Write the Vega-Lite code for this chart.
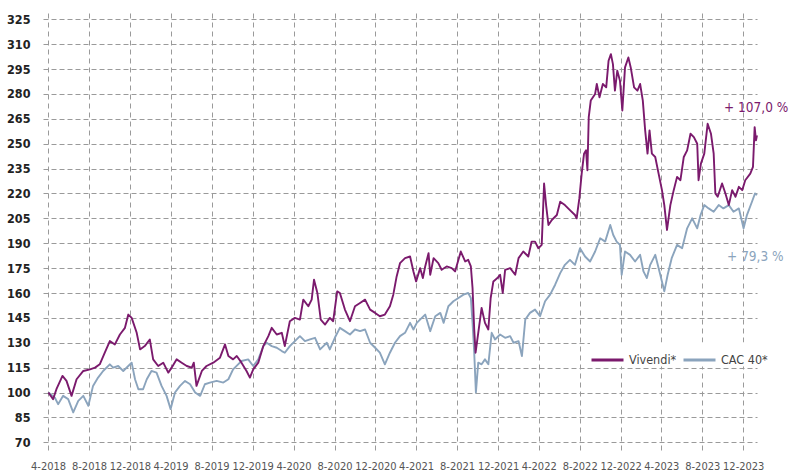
{
"$schema": "https://vega.github.io/schema/vega-lite/v6.json",
"width": 714, "height": 439,
"autosize": {"type": "none"},
"padding": {"left": 43, "top": 13, "right": 32, "bottom": 23},
"background": "white",
"config": {"view": {"stroke": null}, "font": "DejaVu Sans Condensed, sans-serif",
 "axis": {"labelOverlap": false, "labelFlush": false}},
"datasets": {
"series": [
{"series":"CAC 40*","date":"2018-04-02","value":100},
{"series":"CAC 40*","date":"2018-04-21","value":97},
{"series":"CAC 40*","date":"2018-05-01","value":93},
{"series":"CAC 40*","date":"2018-05-16","value":98},
{"series":"CAC 40*","date":"2018-05-31","value":96},
{"series":"CAC 40*","date":"2018-06-15","value":88},
{"series":"CAC 40*","date":"2018-06-30","value":95},
{"series":"CAC 40*","date":"2018-07-15","value":98},
{"series":"CAC 40*","date":"2018-07-30","value":92},
{"series":"CAC 40*","date":"2018-08-13","value":104},
{"series":"CAC 40*","date":"2018-08-28","value":109},
{"series":"CAC 40*","date":"2018-09-12","value":113},
{"series":"CAC 40*","date":"2018-10-02","value":117},
{"series":"CAC 40*","date":"2018-10-12","value":115},
{"series":"CAC 40*","date":"2018-10-27","value":116},
{"series":"CAC 40*","date":"2018-11-11","value":113},
{"series":"CAC 40*","date":"2018-11-26","value":116},
{"series":"CAC 40*","date":"2018-12-06","value":118},
{"series":"CAC 40*","date":"2018-12-16","value":108},
{"series":"CAC 40*","date":"2018-12-26","value":102},
{"series":"CAC 40*","date":"2019-01-09","value":102},
{"series":"CAC 40*","date":"2019-01-20","value":108},
{"series":"CAC 40*","date":"2019-02-03","value":113},
{"series":"CAC 40*","date":"2019-02-18","value":112},
{"series":"CAC 40*","date":"2019-03-05","value":104},
{"series":"CAC 40*","date":"2019-03-20","value":98},
{"series":"CAC 40*","date":"2019-04-01","value":90},
{"series":"CAC 40*","date":"2019-04-14","value":100},
{"series":"CAC 40*","date":"2019-04-29","value":104},
{"series":"CAC 40*","date":"2019-05-14","value":107},
{"series":"CAC 40*","date":"2019-05-29","value":105},
{"series":"CAC 40*","date":"2019-06-13","value":100},
{"series":"CAC 40*","date":"2019-06-28","value":98},
{"series":"CAC 40*","date":"2019-07-12","value":105},
{"series":"CAC 40*","date":"2019-07-27","value":106},
{"series":"CAC 40*","date":"2019-08-16","value":107},
{"series":"CAC 40*","date":"2019-09-05","value":106},
{"series":"CAC 40*","date":"2019-09-20","value":108},
{"series":"CAC 40*","date":"2019-10-04","value":114},
{"series":"CAC 40*","date":"2019-10-19","value":117},
{"series":"CAC 40*","date":"2019-10-29","value":119},
{"series":"CAC 40*","date":"2019-11-18","value":120},
{"series":"CAC 40*","date":"2019-12-03","value":116},
{"series":"CAC 40*","date":"2019-12-18","value":120},
{"series":"CAC 40*","date":"2020-01-02","value":128},
{"series":"CAC 40*","date":"2020-01-12","value":130},
{"series":"CAC 40*","date":"2020-01-27","value":128},
{"series":"CAC 40*","date":"2020-02-11","value":127},
{"series":"CAC 40*","date":"2020-02-26","value":125},
{"series":"CAC 40*","date":"2020-03-06","value":124},
{"series":"CAC 40*","date":"2020-03-21","value":128},
{"series":"CAC 40*","date":"2020-04-05","value":131},
{"series":"CAC 40*","date":"2020-04-20","value":134},
{"series":"CAC 40*","date":"2020-05-05","value":131},
{"series":"CAC 40*","date":"2020-05-20","value":132},
{"series":"CAC 40*","date":"2020-06-04","value":133},
{"series":"CAC 40*","date":"2020-06-19","value":126},
{"series":"CAC 40*","date":"2020-06-29","value":128},
{"series":"CAC 40*","date":"2020-07-09","value":130},
{"series":"CAC 40*","date":"2020-07-18","value":126},
{"series":"CAC 40*","date":"2020-08-02","value":133},
{"series":"CAC 40*","date":"2020-08-17","value":139},
{"series":"CAC 40*","date":"2020-09-01","value":137},
{"series":"CAC 40*","date":"2020-09-16","value":135},
{"series":"CAC 40*","date":"2020-10-01","value":138},
{"series":"CAC 40*","date":"2020-10-16","value":137},
{"series":"CAC 40*","date":"2020-10-31","value":138},
{"series":"CAC 40*","date":"2020-11-15","value":130},
{"series":"CAC 40*","date":"2020-11-30","value":127},
{"series":"CAC 40*","date":"2020-12-14","value":124},
{"series":"CAC 40*","date":"2020-12-29","value":117},
{"series":"CAC 40*","date":"2021-01-13","value":124},
{"series":"CAC 40*","date":"2021-01-28","value":130},
{"series":"CAC 40*","date":"2021-02-12","value":134},
{"series":"CAC 40*","date":"2021-02-27","value":136},
{"series":"CAC 40*","date":"2021-03-14","value":142},
{"series":"CAC 40*","date":"2021-03-24","value":138},
{"series":"CAC 40*","date":"2021-04-03","value":142},
{"series":"CAC 40*","date":"2021-04-18","value":145},
{"series":"CAC 40*","date":"2021-04-28","value":147},
{"series":"CAC 40*","date":"2021-05-13","value":137},
{"series":"CAC 40*","date":"2021-05-28","value":146},
{"series":"CAC 40*","date":"2021-06-12","value":148},
{"series":"CAC 40*","date":"2021-06-22","value":142},
{"series":"CAC 40*","date":"2021-07-06","value":152},
{"series":"CAC 40*","date":"2021-07-21","value":155},
{"series":"CAC 40*","date":"2021-08-05","value":157},
{"series":"CAC 40*","date":"2021-08-20","value":159},
{"series":"CAC 40*","date":"2021-09-03","value":160},
{"series":"CAC 40*","date":"2021-09-11","value":157},
{"series":"CAC 40*","date":"2021-09-16","value":142},
{"series":"CAC 40*","date":"2021-09-21","value":124},
{"series":"CAC 40*","date":"2021-09-26","value":100},
{"series":"CAC 40*","date":"2021-10-03","value":118},
{"series":"CAC 40*","date":"2021-10-13","value":117},
{"series":"CAC 40*","date":"2021-10-23","value":120},
{"series":"CAC 40*","date":"2021-11-02","value":117},
{"series":"CAC 40*","date":"2021-11-12","value":136},
{"series":"CAC 40*","date":"2021-11-22","value":132},
{"series":"CAC 40*","date":"2021-12-07","value":135},
{"series":"CAC 40*","date":"2021-12-22","value":133},
{"series":"CAC 40*","date":"2022-01-06","value":134},
{"series":"CAC 40*","date":"2022-01-16","value":130},
{"series":"CAC 40*","date":"2022-01-31","value":131},
{"series":"CAC 40*","date":"2022-02-10","value":122},
{"series":"CAC 40*","date":"2022-02-20","value":144},
{"series":"CAC 40*","date":"2022-03-06","value":148},
{"series":"CAC 40*","date":"2022-03-21","value":150},
{"series":"CAC 40*","date":"2022-04-05","value":146},
{"series":"CAC 40*","date":"2022-04-20","value":155},
{"series":"CAC 40*","date":"2022-05-05","value":159},
{"series":"CAC 40*","date":"2022-05-20","value":165},
{"series":"CAC 40*","date":"2022-06-04","value":172},
{"series":"CAC 40*","date":"2022-06-18","value":177},
{"series":"CAC 40*","date":"2022-07-03","value":180},
{"series":"CAC 40*","date":"2022-07-18","value":177},
{"series":"CAC 40*","date":"2022-08-02","value":187},
{"series":"CAC 40*","date":"2022-08-17","value":182},
{"series":"CAC 40*","date":"2022-09-01","value":179},
{"series":"CAC 40*","date":"2022-09-16","value":185},
{"series":"CAC 40*","date":"2022-10-01","value":193},
{"series":"CAC 40*","date":"2022-10-16","value":191},
{"series":"CAC 40*","date":"2022-10-31","value":201},
{"series":"CAC 40*","date":"2022-11-09","value":195},
{"series":"CAC 40*","date":"2022-11-19","value":191},
{"series":"CAC 40*","date":"2022-11-29","value":189},
{"series":"CAC 40*","date":"2022-12-04","value":171},
{"series":"CAC 40*","date":"2022-12-14","value":185},
{"series":"CAC 40*","date":"2022-12-29","value":183},
{"series":"CAC 40*","date":"2023-01-13","value":179},
{"series":"CAC 40*","date":"2023-01-28","value":183},
{"series":"CAC 40*","date":"2023-02-07","value":173},
{"series":"CAC 40*","date":"2023-02-17","value":169},
{"series":"CAC 40*","date":"2023-02-27","value":177},
{"series":"CAC 40*","date":"2023-03-14","value":183},
{"series":"CAC 40*","date":"2023-03-29","value":171},
{"series":"CAC 40*","date":"2023-04-10","value":161},
{"series":"CAC 40*","date":"2023-04-20","value":171},
{"series":"CAC 40*","date":"2023-05-02","value":181},
{"series":"CAC 40*","date":"2023-05-18","value":189},
{"series":"CAC 40*","date":"2023-06-02","value":187},
{"series":"CAC 40*","date":"2023-06-17","value":199},
{"series":"CAC 40*","date":"2023-07-02","value":205},
{"series":"CAC 40*","date":"2023-07-17","value":199},
{"series":"CAC 40*","date":"2023-07-27","value":207},
{"series":"CAC 40*","date":"2023-08-07","value":213},
{"series":"CAC 40*","date":"2023-08-20","value":211},
{"series":"CAC 40*","date":"2023-09-04","value":209},
{"series":"CAC 40*","date":"2023-09-19","value":213},
{"series":"CAC 40*","date":"2023-10-03","value":211},
{"series":"CAC 40*","date":"2023-10-19","value":213},
{"series":"CAC 40*","date":"2023-11-02","value":209},
{"series":"CAC 40*","date":"2023-11-18","value":211},
{"series":"CAC 40*","date":"2023-12-02","value":199},
{"series":"CAC 40*","date":"2023-12-12","value":207},
{"series":"CAC 40*","date":"2023-12-27","value":215},
{"series":"CAC 40*","date":"2024-01-05","value":220},
{"series":"CAC 40*","date":"2024-01-11","value":219},
{"series":"Vivendi*","date":"2018-04-02","value":100},
{"series":"Vivendi*","date":"2018-04-16","value":96},
{"series":"Vivendi*","date":"2018-04-26","value":102},
{"series":"Vivendi*","date":"2018-05-14","value":110},
{"series":"Vivendi*","date":"2018-05-26","value":107},
{"series":"Vivendi*","date":"2018-06-10","value":98},
{"series":"Vivendi*","date":"2018-06-25","value":108},
{"series":"Vivendi*","date":"2018-07-15","value":113},
{"series":"Vivendi*","date":"2018-08-04","value":114},
{"series":"Vivendi*","date":"2018-08-19","value":115},
{"series":"Vivendi*","date":"2018-09-02","value":117},
{"series":"Vivendi*","date":"2018-09-17","value":124},
{"series":"Vivendi*","date":"2018-10-02","value":131},
{"series":"Vivendi*","date":"2018-10-17","value":129},
{"series":"Vivendi*","date":"2018-11-01","value":135},
{"series":"Vivendi*","date":"2018-11-16","value":139},
{"series":"Vivendi*","date":"2018-11-26","value":147},
{"series":"Vivendi*","date":"2018-12-06","value":145},
{"series":"Vivendi*","date":"2018-12-21","value":136},
{"series":"Vivendi*","date":"2018-12-31","value":126},
{"series":"Vivendi*","date":"2019-01-14","value":128},
{"series":"Vivendi*","date":"2019-01-29","value":132},
{"series":"Vivendi*","date":"2019-02-08","value":120},
{"series":"Vivendi*","date":"2019-02-23","value":116},
{"series":"Vivendi*","date":"2019-03-10","value":118},
{"series":"Vivendi*","date":"2019-03-25","value":112},
{"series":"Vivendi*","date":"2019-04-04","value":115},
{"series":"Vivendi*","date":"2019-04-19","value":120},
{"series":"Vivendi*","date":"2019-05-04","value":118},
{"series":"Vivendi*","date":"2019-05-19","value":116},
{"series":"Vivendi*","date":"2019-06-03","value":115},
{"series":"Vivendi*","date":"2019-06-09","value":118},
{"series":"Vivendi*","date":"2019-06-17","value":104},
{"series":"Vivendi*","date":"2019-07-03","value":113},
{"series":"Vivendi*","date":"2019-07-17","value":116},
{"series":"Vivendi*","date":"2019-08-06","value":118},
{"series":"Vivendi*","date":"2019-08-26","value":121},
{"series":"Vivendi*","date":"2019-09-10","value":129},
{"series":"Vivendi*","date":"2019-09-20","value":122},
{"series":"Vivendi*","date":"2019-10-04","value":120},
{"series":"Vivendi*","date":"2019-10-15","value":122},
{"series":"Vivendi*","date":"2019-10-29","value":118},
{"series":"Vivendi*","date":"2019-11-13","value":113},
{"series":"Vivendi*","date":"2019-11-23","value":109},
{"series":"Vivendi*","date":"2019-12-03","value":114},
{"series":"Vivendi*","date":"2019-12-18","value":118},
{"series":"Vivendi*","date":"2020-01-02","value":128},
{"series":"Vivendi*","date":"2020-01-17","value":134},
{"series":"Vivendi*","date":"2020-01-27","value":139},
{"series":"Vivendi*","date":"2020-02-11","value":135},
{"series":"Vivendi*","date":"2020-02-26","value":136},
{"series":"Vivendi*","date":"2020-03-06","value":128},
{"series":"Vivendi*","date":"2020-03-21","value":143},
{"series":"Vivendi*","date":"2020-04-05","value":145},
{"series":"Vivendi*","date":"2020-04-20","value":144},
{"series":"Vivendi*","date":"2020-04-30","value":156},
{"series":"Vivendi*","date":"2020-05-15","value":152},
{"series":"Vivendi*","date":"2020-05-25","value":156},
{"series":"Vivendi*","date":"2020-06-01","value":168},
{"series":"Vivendi*","date":"2020-06-11","value":160},
{"series":"Vivendi*","date":"2020-06-21","value":144},
{"series":"Vivendi*","date":"2020-07-04","value":141},
{"series":"Vivendi*","date":"2020-07-18","value":145},
{"series":"Vivendi*","date":"2020-07-28","value":143},
{"series":"Vivendi*","date":"2020-08-09","value":161},
{"series":"Vivendi*","date":"2020-08-17","value":160},
{"series":"Vivendi*","date":"2020-09-01","value":150},
{"series":"Vivendi*","date":"2020-09-16","value":143},
{"series":"Vivendi*","date":"2020-10-01","value":152},
{"series":"Vivendi*","date":"2020-10-16","value":154},
{"series":"Vivendi*","date":"2020-10-31","value":156},
{"series":"Vivendi*","date":"2020-11-15","value":150},
{"series":"Vivendi*","date":"2020-11-30","value":148},
{"series":"Vivendi*","date":"2020-12-14","value":146},
{"series":"Vivendi*","date":"2020-12-29","value":147},
{"series":"Vivendi*","date":"2021-01-13","value":152},
{"series":"Vivendi*","date":"2021-01-23","value":159},
{"series":"Vivendi*","date":"2021-02-02","value":170},
{"series":"Vivendi*","date":"2021-02-12","value":178},
{"series":"Vivendi*","date":"2021-02-27","value":181},
{"series":"Vivendi*","date":"2021-03-14","value":182},
{"series":"Vivendi*","date":"2021-03-24","value":173},
{"series":"Vivendi*","date":"2021-04-01","value":167},
{"series":"Vivendi*","date":"2021-04-13","value":175},
{"series":"Vivendi*","date":"2021-04-21","value":169},
{"series":"Vivendi*","date":"2021-04-28","value":176},
{"series":"Vivendi*","date":"2021-05-08","value":184},
{"series":"Vivendi*","date":"2021-05-13","value":171},
{"series":"Vivendi*","date":"2021-05-23","value":181},
{"series":"Vivendi*","date":"2021-06-06","value":178},
{"series":"Vivendi*","date":"2021-06-16","value":174},
{"series":"Vivendi*","date":"2021-07-01","value":176},
{"series":"Vivendi*","date":"2021-07-16","value":175},
{"series":"Vivendi*","date":"2021-07-26","value":173},
{"series":"Vivendi*","date":"2021-08-05","value":180},
{"series":"Vivendi*","date":"2021-08-12","value":185},
{"series":"Vivendi*","date":"2021-08-25","value":179},
{"series":"Vivendi*","date":"2021-09-03","value":180},
{"series":"Vivendi*","date":"2021-09-11","value":176},
{"series":"Vivendi*","date":"2021-09-16","value":163},
{"series":"Vivendi*","date":"2021-09-21","value":138},
{"series":"Vivendi*","date":"2021-09-25","value":124},
{"series":"Vivendi*","date":"2021-10-03","value":136},
{"series":"Vivendi*","date":"2021-10-13","value":151},
{"series":"Vivendi*","date":"2021-10-23","value":142},
{"series":"Vivendi*","date":"2021-11-02","value":138},
{"series":"Vivendi*","date":"2021-11-09","value":157},
{"series":"Vivendi*","date":"2021-11-17","value":167},
{"series":"Vivendi*","date":"2021-11-29","value":169},
{"series":"Vivendi*","date":"2021-12-07","value":171},
{"series":"Vivendi*","date":"2021-12-15","value":160},
{"series":"Vivendi*","date":"2021-12-22","value":174},
{"series":"Vivendi*","date":"2022-01-06","value":175},
{"series":"Vivendi*","date":"2022-01-21","value":171},
{"series":"Vivendi*","date":"2022-01-31","value":181},
{"series":"Vivendi*","date":"2022-02-14","value":185},
{"series":"Vivendi*","date":"2022-03-01","value":182},
{"series":"Vivendi*","date":"2022-03-11","value":191},
{"series":"Vivendi*","date":"2022-03-21","value":191},
{"series":"Vivendi*","date":"2022-03-31","value":187},
{"series":"Vivendi*","date":"2022-04-10","value":189},
{"series":"Vivendi*","date":"2022-04-17","value":226},
{"series":"Vivendi*","date":"2022-04-23","value":213},
{"series":"Vivendi*","date":"2022-04-30","value":201},
{"series":"Vivendi*","date":"2022-05-10","value":204},
{"series":"Vivendi*","date":"2022-05-25","value":207},
{"series":"Vivendi*","date":"2022-06-04","value":215},
{"series":"Vivendi*","date":"2022-06-18","value":213},
{"series":"Vivendi*","date":"2022-07-03","value":210},
{"series":"Vivendi*","date":"2022-07-18","value":207},
{"series":"Vivendi*","date":"2022-07-23","value":205},
{"series":"Vivendi*","date":"2022-07-31","value":217},
{"series":"Vivendi*","date":"2022-08-07","value":232},
{"series":"Vivendi*","date":"2022-08-14","value":244},
{"series":"Vivendi*","date":"2022-08-20","value":246},
{"series":"Vivendi*","date":"2022-08-24","value":234},
{"series":"Vivendi*","date":"2022-08-28","value":266},
{"series":"Vivendi*","date":"2022-09-03","value":276},
{"series":"Vivendi*","date":"2022-09-16","value":280},
{"series":"Vivendi*","date":"2022-09-21","value":286},
{"series":"Vivendi*","date":"2022-09-29","value":278},
{"series":"Vivendi*","date":"2022-10-09","value":286},
{"series":"Vivendi*","date":"2022-10-19","value":284},
{"series":"Vivendi*","date":"2022-10-26","value":300},
{"series":"Vivendi*","date":"2022-11-02","value":304},
{"series":"Vivendi*","date":"2022-11-08","value":298},
{"series":"Vivendi*","date":"2022-11-14","value":282},
{"series":"Vivendi*","date":"2022-11-21","value":294},
{"series":"Vivendi*","date":"2022-11-29","value":288},
{"series":"Vivendi*","date":"2022-12-06","value":270},
{"series":"Vivendi*","date":"2022-12-14","value":296},
{"series":"Vivendi*","date":"2022-12-24","value":302},
{"series":"Vivendi*","date":"2022-12-31","value":296},
{"series":"Vivendi*","date":"2023-01-10","value":284},
{"series":"Vivendi*","date":"2023-01-20","value":282},
{"series":"Vivendi*","date":"2023-01-28","value":286},
{"series":"Vivendi*","date":"2023-02-05","value":276},
{"series":"Vivendi*","date":"2023-02-12","value":258},
{"series":"Vivendi*","date":"2023-02-19","value":244},
{"series":"Vivendi*","date":"2023-02-25","value":258},
{"series":"Vivendi*","date":"2023-03-04","value":244},
{"series":"Vivendi*","date":"2023-03-14","value":242},
{"series":"Vivendi*","date":"2023-03-24","value":232},
{"series":"Vivendi*","date":"2023-04-03","value":222},
{"series":"Vivendi*","date":"2023-04-10","value":213},
{"series":"Vivendi*","date":"2023-04-18","value":198},
{"series":"Vivendi*","date":"2023-04-28","value":213},
{"series":"Vivendi*","date":"2023-05-08","value":222},
{"series":"Vivendi*","date":"2023-05-18","value":230},
{"series":"Vivendi*","date":"2023-05-28","value":228},
{"series":"Vivendi*","date":"2023-06-07","value":242},
{"series":"Vivendi*","date":"2023-06-17","value":246},
{"series":"Vivendi*","date":"2023-06-27","value":256},
{"series":"Vivendi*","date":"2023-07-07","value":254},
{"series":"Vivendi*","date":"2023-07-17","value":250},
{"series":"Vivendi*","date":"2023-07-21","value":228},
{"series":"Vivendi*","date":"2023-07-28","value":238},
{"series":"Vivendi*","date":"2023-08-07","value":244},
{"series":"Vivendi*","date":"2023-08-17","value":262},
{"series":"Vivendi*","date":"2023-08-27","value":256},
{"series":"Vivendi*","date":"2023-09-04","value":244},
{"series":"Vivendi*","date":"2023-09-09","value":220},
{"series":"Vivendi*","date":"2023-09-16","value":218},
{"series":"Vivendi*","date":"2023-09-29","value":226},
{"series":"Vivendi*","date":"2023-10-09","value":220},
{"series":"Vivendi*","date":"2023-10-19","value":213},
{"series":"Vivendi*","date":"2023-10-29","value":222},
{"series":"Vivendi*","date":"2023-11-08","value":218},
{"series":"Vivendi*","date":"2023-11-18","value":224},
{"series":"Vivendi*","date":"2023-11-28","value":222},
{"series":"Vivendi*","date":"2023-12-07","value":228},
{"series":"Vivendi*","date":"2023-12-22","value":232},
{"series":"Vivendi*","date":"2023-12-30","value":236},
{"series":"Vivendi*","date":"2024-01-04","value":260},
{"series":"Vivendi*","date":"2024-01-08","value":252},
{"series":"Vivendi*","date":"2024-01-11","value":255}
]
},
"layer": [
{
"data": {"name": "series"},
"mark": {"type": "line", "strokeWidth": 1.9, "strokeJoin": "round"},
"encoding": {
"x": {"field": "date", "type": "temporal",
 "scale": {"type": "utc", "domain": [{"year": 2018, "month": 3, "date": 17, "utc": true}, {"year": 2024, "month": 1, "date": 11, "utc": true}]},
 "axis": {"title": null, "grid": true, "gridDash": [5, 4], "gridColor": "#9a9a9a", "gridWidth": 1, "domain": false, "ticks": false,
  "tickCount": 30,
  "labelPadding": 8, "labelFontSize": 11, "labelColor": "#555555", "labelOverlap": false, "labelFlush": false,
  "values": [
   {"year": 2018, "month": 4, "date": 1, "utc": true}, {"year": 2018, "month": 8, "date": 1, "utc": true}, {"year": 2018, "month": 12, "date": 1, "utc": true},
   {"year": 2019, "month": 4, "date": 1, "utc": true}, {"year": 2019, "month": 8, "date": 1, "utc": true}, {"year": 2019, "month": 12, "date": 1, "utc": true},
   {"year": 2020, "month": 4, "date": 1, "utc": true}, {"year": 2020, "month": 8, "date": 1, "utc": true}, {"year": 2020, "month": 12, "date": 1, "utc": true},
   {"year": 2021, "month": 4, "date": 1, "utc": true}, {"year": 2021, "month": 8, "date": 1, "utc": true}, {"year": 2021, "month": 12, "date": 1, "utc": true},
   {"year": 2022, "month": 4, "date": 1, "utc": true}, {"year": 2022, "month": 8, "date": 1, "utc": true}, {"year": 2022, "month": 12, "date": 1, "utc": true},
   {"year": 2023, "month": 4, "date": 1, "utc": true}, {"year": 2023, "month": 8, "date": 1, "utc": true}, {"year": 2023, "month": 12, "date": 1, "utc": true}
  ],
  "labelExpr": "utcFormat(datum.value, '%-m-%Y')"}},
"y": {"field": "value", "type": "quantitative",
 "scale": {"domain": [64.15, 328.8], "nice": false, "zero": false},
 "axis": {"title": null, "grid": true, "gridDash": [5, 3], "gridColor": "#9a9a9a", "gridWidth": 1, "domain": false, "ticks": false,
  "tickCount": 30,
  "values": [70, 85, 100, 115, 130, 145, 160, 175, 190, 205, 220, 235, 250, 265, 280, 295, 310, 325],
  "labelOverlap": false, "labelPadding": 13, "labelFontSize": 12.5, "labelFontWeight": "bold", "labelColor": "#222222"}},
"color": {"field": "series", "type": "nominal",
 "scale": {"domain": ["Vivendi*", "CAC 40*"], "range": ["#7B1A6D", "#8BA4BD"]},
 "legend": {"title": null, "orient": "none", "legendX": 547, "legendY": 329.5, "direction": "horizontal",
  "fillColor": "white", "padding": 0, "symbolType": "stroke", "symbolSize": 1024, "symbolStrokeWidth": 3,
  "labelFontSize": 12.5, "labelColor": "#444444", "labelOffset": 4, "columnPadding": 0}}
}
},
{
"data": {"values": [{"date": "2023-10-05", "value": 271.3, "label": "+ 107,0 %"}]},
"mark": {"type": "text", "align": "left", "baseline": "middle", "fontSize": 13.5, "color": "#7B1A6D"},
"encoding": {
"x": {"field": "date", "type": "temporal"},
"y": {"field": "value", "type": "quantitative"},
"text": {"field": "label"}
}
},
{
"data": {"values": [{"date": "2023-10-14", "value": 181.9, "label": "+ 79,3 %"}]},
"mark": {"type": "text", "align": "left", "baseline": "middle", "fontSize": 13.5, "color": "#8BA4BD"},
"encoding": {
"x": {"field": "date", "type": "temporal"},
"y": {"field": "value", "type": "quantitative"},
"text": {"field": "label"}
}
}
]
}
